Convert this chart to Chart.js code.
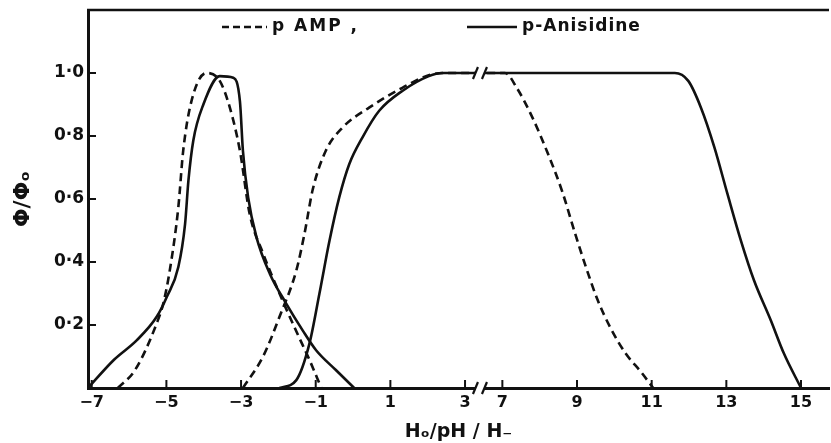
<!DOCTYPE html>
<html>
<head>
<meta charset="utf-8">
<script src="https://cdn.jsdelivr.net/npm/chart.js@4.4.1/dist/chart.umd.min.js"></script>
<style>
  body { margin: 0; background: #fff; }
  #wrap { width: 831px; height: 443px; position: relative; }
</style>
</head>
<body>
<div id="wrap"><canvas id="chart"></canvas></div>
<script>
// Values (x = Ho / pH / H-, y = phi/phi0)
// p AMP, acid region (dashed)
const ampAcidX = [-6.3, -5.84, -5.26, -5.08, -4.9, -4.68, -4.55, -4.33, -3.93, -3.57, -3.3, -3.03, -2.77, -2.41, -1.97, -1.52, -1.17, -0.85];
const ampAcidY = [0, 0.057, 0.205, 0.27, 0.38, 0.574, 0.753, 0.91, 1.0, 0.975, 0.89, 0.753, 0.553, 0.427, 0.30, 0.18, 0.09, 0];
// p AMP, neutral/basic region (dashed)
const ampBaseX = [-2.95, -2.41, -1.97, -1.52, -1.3, -1.08, -0.73, -0.28, 0.43, 1.32, 2.12, 2.6, 7.07, 7.4, 7.8, 8.2, 8.6, 8.95, 9.25, 9.55, 9.9, 10.3, 10.72, 11.04];
const ampBaseY = [0, 0.1, 0.226, 0.373, 0.49, 0.63, 0.753, 0.827, 0.89, 0.953, 0.996, 1.0, 1.0, 0.95, 0.86, 0.75, 0.625, 0.49, 0.38, 0.28, 0.19, 0.11, 0.05, 0];
// p-Anisidine, acid region (solid)
const aniAcidX = [-7.1, -6.41, -5.79, -5.26, -4.99, -4.68, -4.5, -4.41, -4.28, -4.01, -3.57, -3.21, -3.03, -2.95, -2.81, -2.59, -2.23, -1.79, -1.35, -0.99, -0.46, 0.03];
const aniAcidY = [0, 0.089, 0.152, 0.226, 0.289, 0.384, 0.52, 0.658, 0.785, 0.9, 0.99, 0.985, 0.91, 0.753, 0.605, 0.48, 0.363, 0.268, 0.183, 0.12, 0.057, 0];
// p-Anisidine, neutral/basic region (solid)
const aniBaseX = [-1.97, -1.52, -1.17, -0.9, -0.63, -0.37, -0.1, 0.25, 0.7, 1.32, 2.03, 2.39, 11.62, 11.98, 12.32, 12.68, 13.03, 13.39, 13.74, 14.19, 14.54, 15.0];
const aniBaseY = [0, 0.025, 0.14, 0.3, 0.468, 0.605, 0.711, 0.795, 0.88, 0.943, 0.99, 1.0, 1.0, 0.975, 0.89, 0.764, 0.616, 0.468, 0.342, 0.215, 0.11, 0];

// axis ticks (real values); the axis is broken between 3 and 7
const xTickLabels = [-7, -5, -3, -1, 1, 3, 7, 9, 11, 13, 15];
const yTickLabels = [0.2, 0.4, 0.6, 0.8, 1.0];
const breakFrom = 3, breakTo = 7, breakGap = 1; // 3 -> 7 takes one unit of axis

const ink = '#111';

// map a real x value onto the broken axis
function toAxis(v) {
    return v <= breakFrom ? v : v - (breakTo - breakFrom) + breakGap;
}
function fromAxis(u) {
    return u <= breakFrom + 0.01 ? u : u + (breakTo - breakFrom) - breakGap;
}
function points(xs, ys) {
    return xs.map((v, i) => ({ x: toAxis(v), y: ys[i] }));
}
function fmt(v) {
    return v.toFixed(1).replace('.', '\u00B7');
}

function lineSet(label, xs, ys, dashed) {
    return {
        label: label,
        data: points(xs, ys),
        borderColor: ink,
        borderWidth: 2.6,
        borderDash: dashed ? [8, 5] : [],
        pointRadius: 0,
        fill: false,
        cubicInterpolationMode: 'monotone'
    };
}

// frame top, inward ticks, axis breaks and the legend
const decorations = {
    id: 'decorations',
    afterDatasetsDraw(chart) {
        const { ctx, chartArea: a, scales: { x, y } } = chart;
        const line = (x0, y0, x1, y1) => {
            ctx.beginPath(); ctx.moveTo(x0, y0); ctx.lineTo(x1, y1); ctx.stroke();
        };
        ctx.save();
        ctx.strokeStyle = ink;
        ctx.lineWidth = 2.5;
        line(a.left - 1, a.top, a.right, a.top);

        // tick marks point into the plot
        ctx.lineWidth = 2;
        yTickLabels.forEach(v => {
            const py = y.getPixelForValue(v);
            line(a.left, py, a.left + 8, py);
        });
        xTickLabels.forEach(v => {
            const px = x.getPixelForValue(toAxis(v));
            line(px, a.bottom, px, a.bottom - 8);
        });

        // "//" breaks on the plateau and on the x axis
        const bc = x.getPixelForValue(breakFrom + 0.4);
        [y.getPixelForValue(1), a.bottom].forEach(py => {
            ctx.fillStyle = '#fff';
            ctx.fillRect(bc - 4, py - 3, 8, 6);
            ctx.lineWidth = 2.2;
            line(bc - 7, py + 6, bc - 2, py - 6);
            line(bc + 2, py + 6, bc + 7, py - 6);
        });

        // legend
        const ly = a.top + 17;
        ctx.font = 'bold 17px "DejaVu Sans"';
        ctx.fillStyle = ink;
        ctx.textBaseline = 'middle';
        ctx.lineWidth = 2.4;
        ctx.setLineDash([7, 4]);
        line(222, ly, 267, ly);
        ctx.setLineDash([]);
        ctx.letterSpacing = '2px';
        ctx.fillText('p AMP ,', 272, ly);
        line(467, ly, 517, ly);
        ctx.letterSpacing = '1px';
        ctx.fillText('p-Anisidine', 522, ly);
        ctx.restore();
    }
};

const chart = new Chart(document.getElementById('chart'), {
    type: 'line',
    data: {
        datasets: [
            lineSet('p AMP', ampAcidX, ampAcidY, true),
            lineSet('p AMP', ampBaseX, ampBaseY, true),
            lineSet('p-Anisidine', aniAcidX, aniAcidY, false),
            lineSet('p-Anisidine', aniBaseX, aniBaseY, false)
        ]
    },
    options: {
        responsive: true,
        maintainAspectRatio: false,
        animation: false,
        layout: { padding: { top: 10, right: 2, left: 0, bottom: 0 } },
        plugins: {
            legend: { display: false },
            tooltip: { enabled: false }
        },
        scales: {
            x: {
                type: 'linear',
                min: -7.1,
                max: 12.75,
                grid: { display: false, drawTicks: false },
                border: { display: true, color: ink, width: 3 },
                afterBuildTicks: scale => {
                    scale.ticks = xTickLabels.map(v => ({ value: toAxis(v) }));
                },
                afterFit: scale => { scale.height = 55; },
                ticks: {
                    autoSkip: false,
                    maxRotation: 0,
                    padding: 5,
                    color: ink,
                    font: { family: 'DejaVu Sans', weight: 'bold', size: 16 },
                    callback: v => {
                        const r = Math.round(fromAxis(v));
                        return r < 0 ? '\u2212' + Math.abs(r) : String(r);
                    }
                },
                title: {
                    display: true,
                    text: 'H\u2092/pH / H\u208B',
                    color: ink,
                    font: { family: 'DejaVu Sans', weight: 'bold', size: 19 },
                    padding: { top: 0, bottom: 0 }
                }
            },
            y: {
                min: 0,
                max: 1.2,
                grid: { display: false, drawTicks: false },
                border: { display: true, color: ink, width: 3 },
                afterFit: scale => {
                    scale.width = 88;
                    scale.paddingTop = 0;
                    scale.paddingBottom = 0;
                },
                ticks: {
                    stepSize: 0.2,
                    padding: 4,
                    color: ink,
                    font: { family: 'DejaVu Sans', weight: 'bold', size: 17 },
                    callback: v => (v > 0.01 && v < 1.1) ? fmt(v) : ''
                },
                title: {
                    display: true,
                    text: '\u03A6/\u03A6\u2092',
                    color: ink,
                    font: { family: 'DejaVu Sans', weight: 'bold', size: 22 },
                    padding: { top: 10, bottom: 0 }
                }
            }
        }
    },
    plugins: [decorations]
});
</script>
</body>
</html>
